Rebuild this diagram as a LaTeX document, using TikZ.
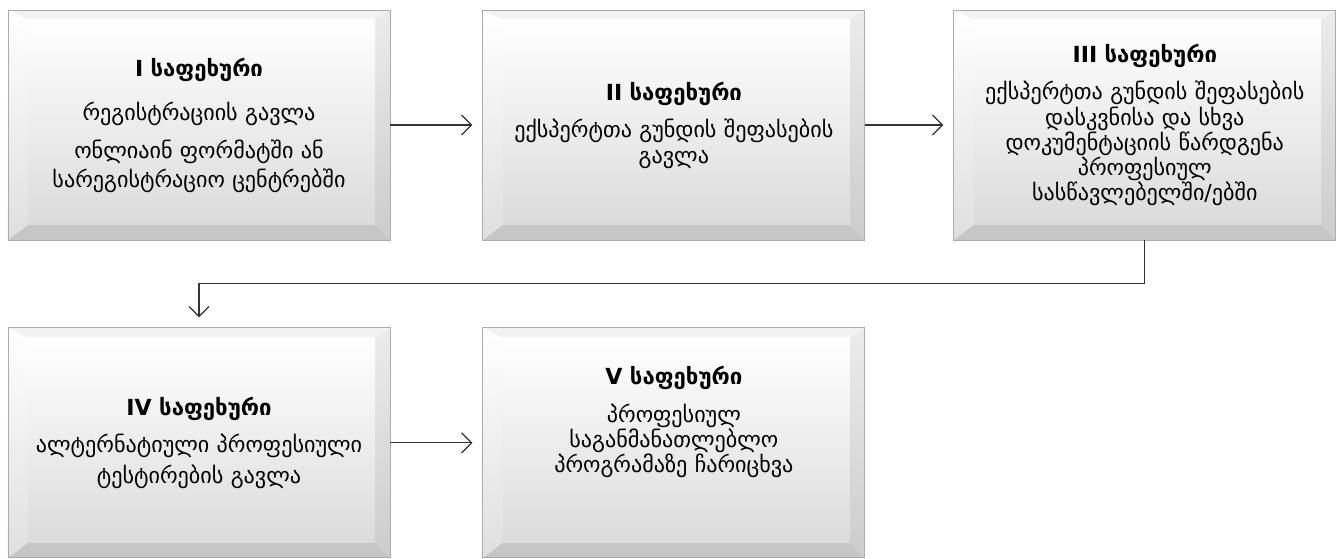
\documentclass[tikz,border=0pt]{standalone}
\usepackage{fontspec}
\setmainfont{DejaVu Sans}
\usetikzlibrary{calc,positioning,arrows.meta}

\tikzset{
    stepbox/.style={
        minimum width=7.64cm, minimum height=4.6cm, text width=7.2cm,
        align=center, inner sep=0pt, draw=gray!65, line width=0.5pt,
        font=\fontsize{12.6}{14.4}\selectfont,
        path picture={
            \coordinate (o1) at (path picture bounding box.south west);
            \coordinate (o3) at (path picture bounding box.north east);
            \coordinate (o2) at (o1 -| o3);
            \coordinate (o4) at (o1 |- o3);
            \coordinate (i1) at ($(o1)+(0.4,0.3)$);
            \coordinate (i3) at ($(o3)+(-0.3,-0.2)$);
            \coordinate (i2) at (i1 -| i3);
            \coordinate (i4) at (i1 |- i3);
            \fill[gray!10] (o4)--(o3)--(i3)--(i4)--cycle;
            \shade[top color=white, bottom color=gray!25] (o1)--(o4)--(i4)--(i1)--cycle;
            \shade[top color=gray!15, bottom color=gray!40] (o3)--(o2)--(i2)--(i3)--cycle;
            \fill[gray!45] (o1)--(o2)--(i2)--(i1)--cycle;
            \shade[top color=white, bottom color=gray!28] (i1) rectangle (i3);
        }},
    flow/.style={draw=black!80, line width=0.7pt, -{Straight Barb[length=2mm,width=4mm]}, shorten >=0.2cm},
}

\newcommand{\stagetitle}[1]{\textbf{#1 საფეხური}\\[7pt]}

\begin{document}
\begin{tikzpicture}
    \useasboundingbox (0,0) rectangle (26.82,-11.18);

    \node[stepbox] (s1) at (3.98,-2.5)
        {\textbf{I საფეხური}\\[11pt]რეგისტრაციის გავლა\\[7pt]ონლიაინ ფორმატში ან\\[2pt]სარეგისტრაციო ცენტრებში};
    \node[stepbox, right=1.84cm of s1] (s2)
        {\stagetitle{II}ექსპერტთა გუნდის შეფასების\\გავლა};
    \node[stepbox, right=1.76cm of s2] (s3)
        {\stagetitle{III}ექსპერტთა გუნდის შეფასების\\დასკვნისა და სხვა\\დოკუმენტაციის წარდგენა\\პროფესიულ\\სასწავლებელში/ებში};
    \node[stepbox, below=1.74cm of s1] (s4)
        {\stagetitle{IV}ალტერნატიული პროფესიული\\[3pt]ტესტირების გავლა};
    \node[stepbox, right=1.84cm of s4] (s5)
        {\stagetitle{V}პროფესიულ\\საგანმანათლებლო\\პროგრამაზე ჩარიცხვა\\[12pt]\mbox{}};

    % connectors
    \draw[flow] (s1) -- (s2);
    \draw[flow] (s2) -- (s3);
    \draw[flow] (s3.south) -- ++(0,-0.86) -| (s4.north);
    \draw[flow] (s4) -- (s5);
\end{tikzpicture}
\end{document}
